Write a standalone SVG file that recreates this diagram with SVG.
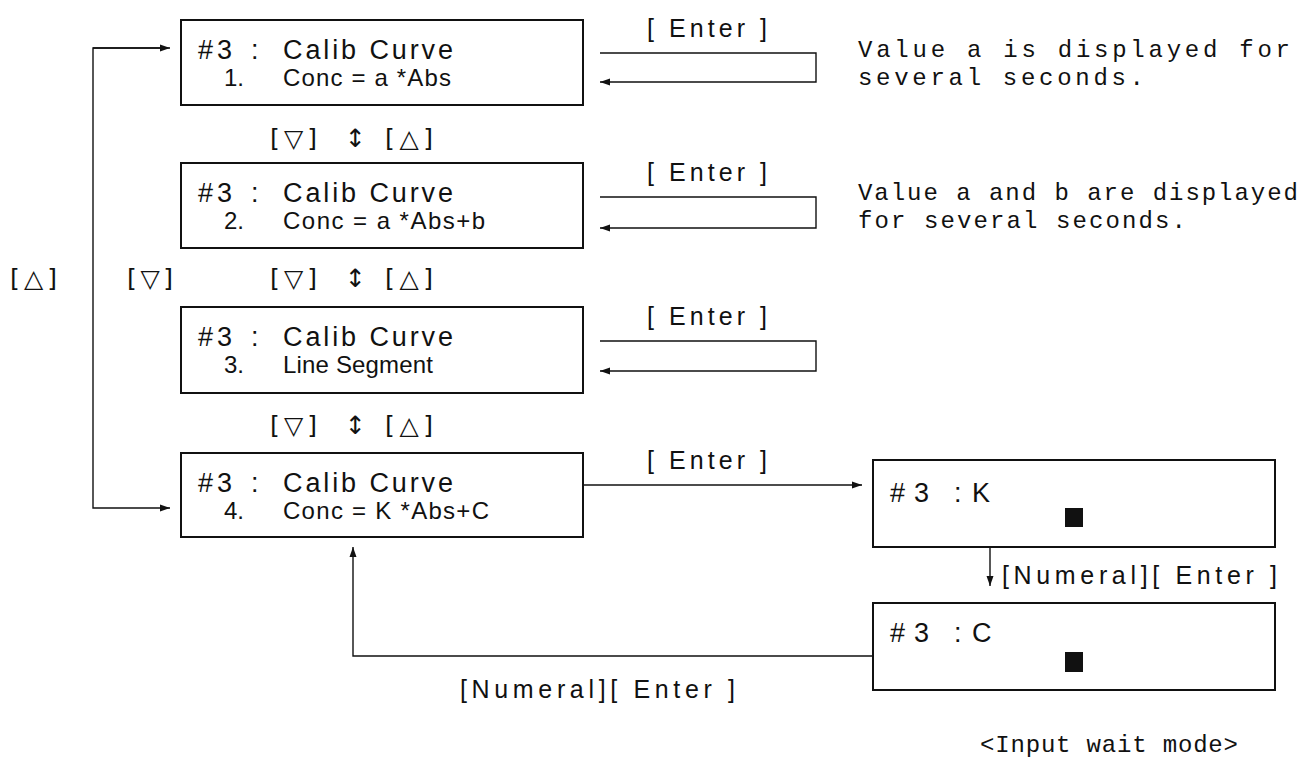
<svg xmlns="http://www.w3.org/2000/svg" width="1304" height="759" viewBox="0 0 1304 759">
<style>
.box{fill:#fff;stroke:#111;stroke-width:2}
.ln{fill:none;stroke:#111;stroke-width:1.4}
.t{font-family:"Liberation Sans Narrow","Liberation Sans",sans-serif;font-size:25px;fill:#111}
.t1{font-family:"Liberation Sans Narrow","Liberation Sans",sans-serif;font-size:27px;fill:#111}
.t2{font-family:"Liberation Sans Narrow","Liberation Sans",sans-serif;font-size:24px;fill:#111}
.k{font-family:"DejaVu Sans","Liberation Sans",sans-serif;font-size:25px;fill:#111}
.m{font-family:"Liberation Mono","DejaVu Sans Mono",monospace;font-size:24px;fill:#111}
.cur{fill:#111}
</style>
<defs>
<marker id="ah" viewBox="0 0 10 8" refX="10" refY="4" markerWidth="10" markerHeight="8" markerUnits="userSpaceOnUse" orient="auto">
<path d="M0,0.5 L10,4 L0,7.5 Z" fill="#111"/>
</marker>
</defs>
<g id="connectors">
<path class="ln" d="M162,48 H93 V508 H170" marker-end="url(#ah)"/>
<path class="ln" d="M93,48 H170" marker-end="url(#ah)"/>
<path class="ln" d="M600,53 H816 V82 H600" marker-end="url(#ah)"/>
<path class="ln" d="M600,197 H816 V228 H600" marker-end="url(#ah)"/>
<path class="ln" d="M600,341 H816 V371 H600" marker-end="url(#ah)"/>
<path class="ln" d="M583,485 H862" marker-end="url(#ah)"/>
<path class="ln" d="M990,547 V586" marker-end="url(#ah)"/>
<path class="ln" d="M873,656 H353 V547" marker-end="url(#ah)"/>
</g>
<g id="labels">
<text class="t" x="647" y="37" textLength="120" lengthAdjust="spacing">[ Enter ]</text>
<text class="t" x="647" y="181" textLength="120" lengthAdjust="spacing">[ Enter ]</text>
<text class="t" x="647" y="325" textLength="120" lengthAdjust="spacing">[ Enter ]</text>
<text class="t" x="647" y="469" textLength="120" lengthAdjust="spacing">[ Enter ]</text>
<text class="t" x="1002" y="584" textLength="275" lengthAdjust="spacing">[Numeral][ Enter ]</text>
<text class="t" x="460" y="698" textLength="275" lengthAdjust="spacing">[Numeral][ Enter ]</text>
<text class="k" x="270" y="147" textLength="47" lengthAdjust="spacing">[▽]</text>
<text class="k" x="345" y="147">↕</text>
<text class="k" x="385" y="147" textLength="48" lengthAdjust="spacing">[△]</text>
<text class="k" x="270" y="287" textLength="47" lengthAdjust="spacing">[▽]</text>
<text class="k" x="345" y="287">↕</text>
<text class="k" x="385" y="287" textLength="48" lengthAdjust="spacing">[△]</text>
<text class="k" x="270" y="434" textLength="47" lengthAdjust="spacing">[▽]</text>
<text class="k" x="345" y="434">↕</text>
<text class="k" x="385" y="434" textLength="48" lengthAdjust="spacing">[△]</text>
<text class="k" x="10" y="287" textLength="47" lengthAdjust="spacing">[△]</text>
<text class="k" x="127" y="287" textLength="46" lengthAdjust="spacing">[▽]</text>
<text class="m" x="858" y="57" textLength="432" lengthAdjust="spacing">Value a is displayed for</text>
<text class="m" x="858" y="85" textLength="286" lengthAdjust="spacing">several seconds.</text>
<text class="m" x="858" y="200" textLength="440" lengthAdjust="spacing">Value a and b are displayed</text>
<text class="m" x="858" y="228" textLength="328" lengthAdjust="spacing">for several seconds.</text>
<text class="m" x="980" y="752" textLength="258" lengthAdjust="spacing">&lt;Input wait mode&gt;</text>
</g>
<g id="node1">
<rect class="box" x="181" y="20" width="402" height="85"/>
<text class="t1" x="198" y="59">#</text><text class="t1" x="217" y="59">3</text><text class="t1" x="251" y="59">:</text>
<text class="t1" x="283" y="59" textLength="170" lengthAdjust="spacing">Calib Curve</text>
<text class="t2" x="224" y="86">1.</text>
<text class="t2" x="283" y="86" textLength="168" lengthAdjust="spacing">Conc = a *Abs</text>
</g>
<g id="node2">
<rect class="box" x="181" y="163" width="402" height="85"/>
<text class="t1" x="198" y="202">#</text><text class="t1" x="217" y="202">3</text><text class="t1" x="251" y="202">:</text>
<text class="t1" x="283" y="202" textLength="170" lengthAdjust="spacing">Calib Curve</text>
<text class="t2" x="224" y="229">2.</text>
<text class="t2" x="283" y="229" textLength="202" lengthAdjust="spacing">Conc = a *Abs+b</text>
</g>
<g id="node3">
<rect class="box" x="181" y="307" width="402" height="86"/>
<text class="t1" x="198" y="346">#</text><text class="t1" x="217" y="346">3</text><text class="t1" x="251" y="346">:</text>
<text class="t1" x="283" y="346" textLength="170" lengthAdjust="spacing">Calib Curve</text>
<text class="t2" x="224" y="373">3.</text>
<text class="t2" x="283" y="373" textLength="150" lengthAdjust="spacing">Line Segment</text>
</g>
<g id="node4">
<rect class="box" x="181" y="453" width="402" height="84"/>
<text class="t1" x="198" y="492">#</text><text class="t1" x="217" y="492">3</text><text class="t1" x="251" y="492">:</text>
<text class="t1" x="283" y="492" textLength="170" lengthAdjust="spacing">Calib Curve</text>
<text class="t2" x="224" y="519">4.</text>
<text class="t2" x="283" y="519" textLength="206" lengthAdjust="spacing">Conc = K *Abs+C</text>
</g>
<g id="nodeK">
<rect class="box" x="873" y="460" width="402" height="87"/>
<text class="t1" x="890" y="502">#</text><text class="t1" x="914" y="502">3</text><text class="t1" x="954" y="502">:</text><text class="t1" x="972" y="502">K</text>
<rect class="cur" x="1065" y="508" width="18" height="19"/>
</g>
<g id="nodeC">
<rect class="box" x="873" y="603" width="402" height="87"/>
<text class="t1" x="890" y="642">#</text><text class="t1" x="914" y="642">3</text><text class="t1" x="954" y="642">:</text><text class="t1" x="972" y="642">C</text>
<rect class="cur" x="1065" y="652" width="18" height="20"/>
</g>
</svg>
